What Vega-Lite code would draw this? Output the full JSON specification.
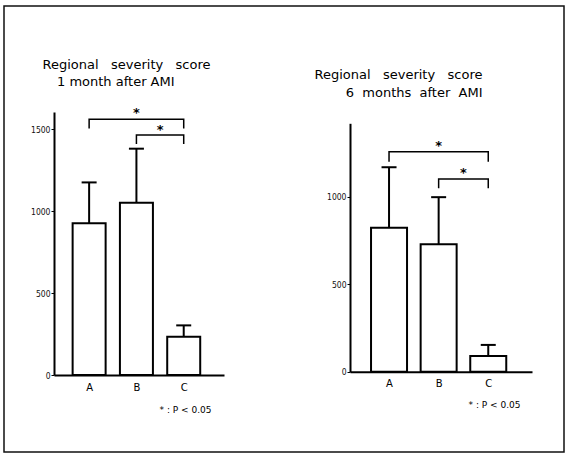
{
  "$schema": "https://vega.github.io/schema/vega-lite/v6.json",
  "width": 560,
  "height": 446,
  "autosize": {"type": "none"},
  "padding": {"left": 4, "top": 6, "right": 9, "bottom": 6},
  "background": "white",
  "title": {"text": "1\u00a0month\u00a0after\u00a0AMI", "anchor": "start", "frame": "group", "orient": "top",
    "offset": 0, "dx": 53, "dy": 93, "baseline": "alphabetic", "font": "DejaVu Sans", "fontSize": 13,
    "fontWeight": "normal", "color": "#000"},
  "config": {
    "view": {"stroke": "#111", "strokeWidth": 1.5},
    "axis": {"grid": false, "domainColor": "#000", "tickColor": "#000"}
  },
  "datasets": {
    "bars": [
      {"panel": "1m", "g": 1, "mean": 926, "top": 1176},
      {"panel": "1m", "g": 2, "mean": 1052, "top": 1382},
      {"panel": "1m", "g": 3, "mean": 234, "top": 303},
      {"panel": "6m", "g": 1, "mean": 823, "top": 1168},
      {"panel": "6m", "g": 2, "mean": 728, "top": 997},
      {"panel": "6m", "g": 3, "mean": 90, "top": 153}
    ],
    "brackets": [
      {"panel": "1m", "id": "AC", "ord": 1, "g": 1, "v": 1506},
      {"panel": "1m", "id": "AC", "ord": 2, "g": 1, "v": 1561},
      {"panel": "1m", "id": "AC", "ord": 3, "g": 3, "v": 1561},
      {"panel": "1m", "id": "AC", "ord": 4, "g": 3, "v": 1506},
      {"panel": "1m", "id": "BC", "ord": 1, "g": 2, "v": 1410},
      {"panel": "1m", "id": "BC", "ord": 2, "g": 2, "v": 1465},
      {"panel": "1m", "id": "BC", "ord": 3, "g": 3, "v": 1465},
      {"panel": "1m", "id": "BC", "ord": 4, "g": 3, "v": 1410},
      {"panel": "6m", "id": "AC", "ord": 1, "g": 1, "v": 1200},
      {"panel": "6m", "id": "AC", "ord": 2, "g": 1, "v": 1257},
      {"panel": "6m", "id": "AC", "ord": 3, "g": 3, "v": 1257},
      {"panel": "6m", "id": "AC", "ord": 4, "g": 3, "v": 1200},
      {"panel": "6m", "id": "BC", "ord": 1, "g": 2, "v": 1048},
      {"panel": "6m", "id": "BC", "ord": 2, "g": 2, "v": 1101},
      {"panel": "6m", "id": "BC", "ord": 3, "g": 3, "v": 1101},
      {"panel": "6m", "id": "BC", "ord": 4, "g": 3, "v": 1048}
    ],
    "stars": [
      {"panel": "1m", "g": 2, "v": 1598, "t": "*"},
      {"panel": "1m", "g": 2.5, "v": 1494, "t": "*"},
      {"panel": "6m", "g": 2, "v": 1288, "t": "*"},
      {"panel": "6m", "g": 2.5, "v": 1134, "t": "*"}
    ]
  },
  "resolve": {
    "scale": {"x": "independent", "y": "independent"},
    "axis": {"x": "independent", "y": "independent"}
  },
  "layer": [
    {
      "layer": [
        {
          "data": {"name": "bars"},
          "transform": [{"filter": "datum.panel === '1m'"}],
          "mark": {"type": "bar", "width": 33, "fill": "white", "stroke": "#000", "strokeWidth": 2},
          "encoding": {
            "x": {"field": "g", "type": "quantitative",
              "scale": {"domain": [0.363, 3.746], "range": [50, 220], "nice": false, "zero": false},
              "axis": {"orient": "bottom", "offset": -77, "values": [1, 2, 3],
                "labelExpr": "datum.value == 1 ? 'A' : datum.value == 2 ? 'B' : 'C'",
                "ticks": false, "domainWidth": 2, "labelFont": "DejaVu Sans", "labelFontSize": 10,
                "labelColor": "#000", "labelPadding": 7,
                "title": "*\u00a0:\u00a0P\u00a0<\u00a00.05", "titleX": 207, "titleY": 34, "titleAlign": "right",
                "titleBaseline": "middle", "titleFont": "DejaVu Sans", "titleFontSize": 9,
                "titleFontWeight": "normal", "titleColor": "#000"}},
            "y": {"field": "mean", "type": "quantitative",
              "scale": {"domain": [0, 1606], "range": [369, 106], "nice": false},
              "axis": {"orient": "left", "offset": -50, "values": [0, 500, 1000, 1500], "format": "d",
                "domainWidth": 2, "tickSize": 3, "labelFont": "DejaVu Sans Condensed",
                "labelFontSize": 8.5, "labelColor": "#111", "labelPadding": 1,
                "title": "Regional\u00a0\u00a0\u00a0severity\u00a0\u00a0\u00a0score",
                "titleAngle": 0, "titleAlign": "center", "titleBaseline": "alphabetic",
                "titleX": 72, "titleY": 62, "titleFont": "DejaVu Sans", "titleFontSize": 13,
                "titleFontWeight": "normal", "titleColor": "#000"}},
            "y2": {"datum": 0}
          }
        },
        {
          "data": {"name": "bars"},
          "transform": [{"filter": "datum.panel === '1m'"}],
          "mark": {"type": "rule", "stroke": "#000", "strokeWidth": 2},
          "encoding": {
            "x": {"field": "g", "type": "quantitative"},
            "y": {"field": "mean", "type": "quantitative"},
            "y2": {"field": "top"}
          }
        },
        {
          "data": {"name": "bars"},
          "transform": [{"filter": "datum.panel === '1m'"}],
          "mark": {"type": "tick", "orient": "horizontal", "size": 15, "thickness": 2, "color": "#000", "opacity": 1},
          "encoding": {
            "x": {"field": "g", "type": "quantitative"},
            "y": {"field": "top", "type": "quantitative"}
          }
        },
        {
          "data": {"name": "brackets"},
          "transform": [{"filter": "datum.panel === '1m'"}],
          "mark": {"type": "line", "stroke": "#000", "strokeWidth": 1.5},
          "encoding": {
            "x": {"field": "g", "type": "quantitative"},
            "y": {"field": "v", "type": "quantitative"},
            "detail": {"field": "id"},
            "order": {"field": "ord"}
          }
        },
        {
          "data": {"name": "stars"},
          "transform": [{"filter": "datum.panel === '1m'"}],
          "mark": {"type": "text", "font": "DejaVu Sans", "fontSize": 13, "fontWeight": "bold", "baseline": "middle", "color": "#000"},
          "encoding": {
            "x": {"field": "g", "type": "quantitative"},
            "y": {"field": "v", "type": "quantitative"},
            "text": {"field": "t"}
          }
        }
      ]
    },
    {
      "layer": [
        {
          "data": {"name": "bars"},
          "transform": [{"filter": "datum.panel === '6m'"}],
          "mark": {"type": "bar", "width": 36, "fill": "white", "stroke": "#000", "strokeWidth": 2},
          "encoding": {
            "x": {"field": "g", "type": "quantitative",
              "scale": {"domain": [0.314, 3.781], "range": [346, 528], "nice": false, "zero": false},
              "axis": {"orient": "bottom", "offset": -80.3, "values": [1, 2, 3],
                "labelExpr": "datum.value == 1 ? 'A' : datum.value == 2 ? 'B' : 'C'",
                "ticks": false, "domainWidth": 2, "labelFont": "DejaVu Sans", "labelFontSize": 10,
                "labelColor": "#000", "labelPadding": 7,
                "title": "*\u00a0:\u00a0P\u00a0<\u00a00.05", "titleX": 516, "titleY": 33, "titleAlign": "right",
                "titleBaseline": "middle", "titleFont": "DejaVu Sans", "titleFontSize": 9,
                "titleFontWeight": "normal", "titleColor": "#000"}},
            "y": {"field": "mean", "type": "quantitative",
              "scale": {"domain": [0, 1419], "range": [365.7, 117.3], "nice": false},
              "axis": {"orient": "left", "offset": -346, "values": [0, 500, 1000], "format": "d",
                "domainWidth": 2, "tickSize": 3, "labelFont": "DejaVu Sans Condensed",
                "labelFontSize": 8.5, "labelColor": "#111", "labelPadding": 1,
                "title": ["Regional\u00a0\u00a0\u00a0severity\u00a0\u00a0\u00a0score", "6\u00a0\u00a0months\u00a0\u00a0after\u00a0\u00a0AMI"],
                "titleAngle": 0, "titleAlign": "right", "titleBaseline": "alphabetic",
                "titleX": 132, "titleY": 72, "titleFont": "DejaVu Sans", "titleFontSize": 13,
                "titleFontWeight": "normal", "titleLineHeight": 18, "titleColor": "#000"}},
            "y2": {"datum": 0}
          }
        },
        {
          "data": {"name": "bars"},
          "transform": [{"filter": "datum.panel === '6m'"}],
          "mark": {"type": "rule", "stroke": "#000", "strokeWidth": 2},
          "encoding": {
            "x": {"field": "g", "type": "quantitative"},
            "y": {"field": "mean", "type": "quantitative"},
            "y2": {"field": "top"}
          }
        },
        {
          "data": {"name": "bars"},
          "transform": [{"filter": "datum.panel === '6m'"}],
          "mark": {"type": "tick", "orient": "horizontal", "size": 15, "thickness": 2, "color": "#000", "opacity": 1},
          "encoding": {
            "x": {"field": "g", "type": "quantitative"},
            "y": {"field": "top", "type": "quantitative"}
          }
        },
        {
          "data": {"name": "brackets"},
          "transform": [{"filter": "datum.panel === '6m'"}],
          "mark": {"type": "line", "stroke": "#000", "strokeWidth": 1.5},
          "encoding": {
            "x": {"field": "g", "type": "quantitative"},
            "y": {"field": "v", "type": "quantitative"},
            "detail": {"field": "id"},
            "order": {"field": "ord"}
          }
        },
        {
          "data": {"name": "stars"},
          "transform": [{"filter": "datum.panel === '6m'"}],
          "mark": {"type": "text", "font": "DejaVu Sans", "fontSize": 13, "fontWeight": "bold", "baseline": "middle", "color": "#000"},
          "encoding": {
            "x": {"field": "g", "type": "quantitative"},
            "y": {"field": "v", "type": "quantitative"},
            "text": {"field": "t"}
          }
        }
      ]
    }
  ]
}
